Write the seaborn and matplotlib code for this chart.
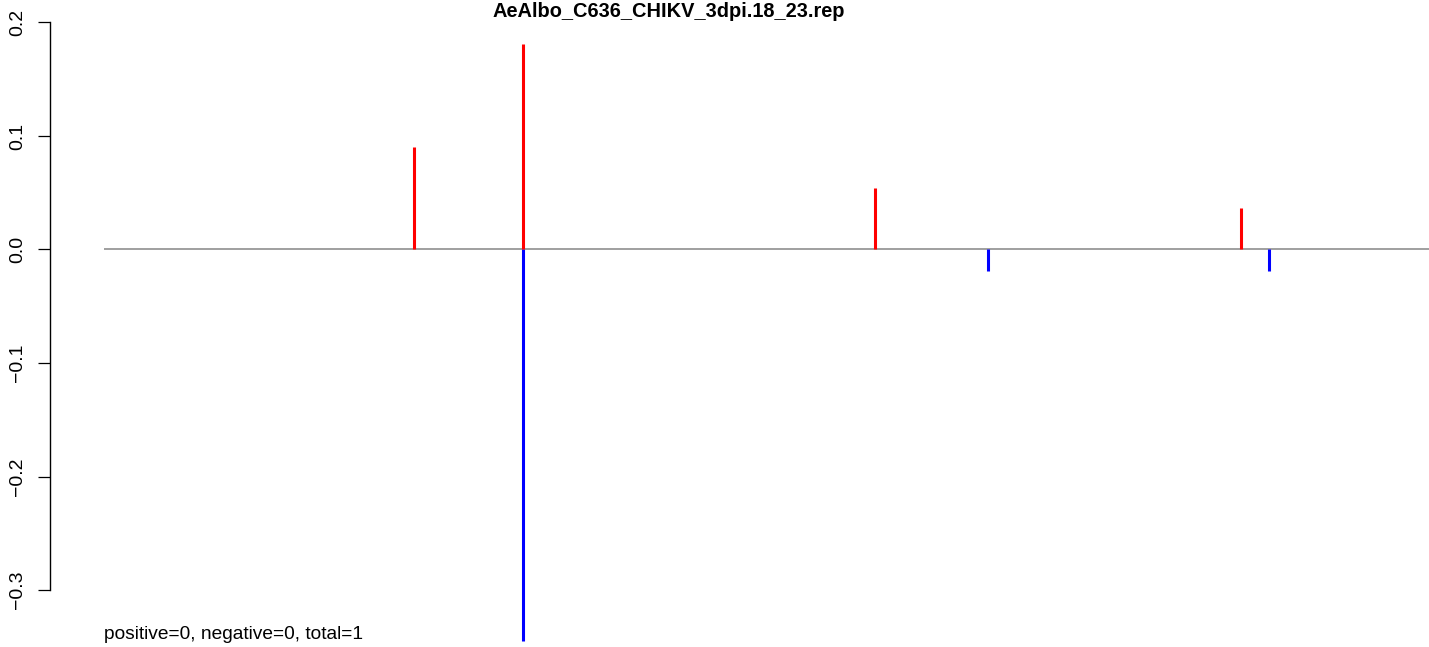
import matplotlib
matplotlib.use("Agg")
import matplotlib.pyplot as plt
import seaborn as sns
import numpy as np
import pandas as pd

# ---- data ----
title = "AeAlbo_C636_CHIKV_3dpi.18_23.rep"
footer = "positive=0, negative=0, total=1"
pos_x = [23.4, 31.6, 58.2, 85.8]          # positions of positive (red) bars
pos_y = [0.090, 0.181, 0.054, 0.037]
neg_x = [31.6, 66.7, 87.9]                # positions of negative (blue) bars
neg_y = [-0.345, -0.019, -0.019]
yticks = [-0.3, -0.2, -0.1, 0.0, 0.1, 0.2]
ytick_labels = ["\u22120.3", "\u22120.2", "\u22120.1", "0.0", "0.1", "0.2"]
line_start, line_end = 0.0, 100.0

sns.set_theme(style="white")
plt.rcParams["font.family"] = ["Liberation Sans", "DejaVu Sans"]

W, H = 1429, 647
fig = plt.figure(figsize=(W / 100, H / 100), dpi=100)
ax = fig.add_axes([0, 0, 1, 1])
ax.set_facecolor("white")
fig.patch.set_facecolor("white")

df = pd.DataFrame({
    "x": pos_x + neg_x,
    "y": pos_y + neg_y,
    "sign": ["pos"] * len(pos_x) + ["neg"] * len(neg_x),
})
colors = {"pos": "#FF0000", "neg": "#0000FF"}

# zero line
ax.hlines(0, line_start, line_end + 5, color="#858585", lw=1.1, zorder=1)
for s, sub in df.groupby("sign"):
    ax.vlines(sub["x"], 0, sub["y"], color=colors[s], lw=2.2, zorder=2)

px_per_x = (W - 104) / (line_end - line_start)
ax.set_xlim(line_start - 104 / px_per_x, line_end)
px_per_y = 1135.0
ax.set_ylim(-(H - 249.5) / px_per_y, 249.5 / px_per_y)

sns.despine(ax=ax, top=True, right=True, bottom=True, left=False)
ax.spines["left"].set_position(("axes", 50 / W))
ax.spines["left"].set_bounds(-0.3, 0.2)
ax.spines["left"].set_color("black")
ax.spines["left"].set_linewidth(1.0)
ax.set_xticks([])
ax.set_yticks(yticks)
ax.set_yticklabels(ytick_labels, rotation=90, va="center", fontsize=14)
ax.tick_params(axis="y", direction="out", length=8.6, width=0.9, pad=8.5,
               color="black", labelcolor="black", left=True)
ax.grid(False)

fig.text(669 / W, 1 - 17 / H, title, ha="center", va="baseline",
         fontsize=14.4, fontweight="bold", color="black")
fig.text(104 / W, 1 - 639 / H, footer, ha="left", va="baseline",
         fontsize=13.8, color="black")

fig.savefig("out.png", dpi=100, facecolor="white")
